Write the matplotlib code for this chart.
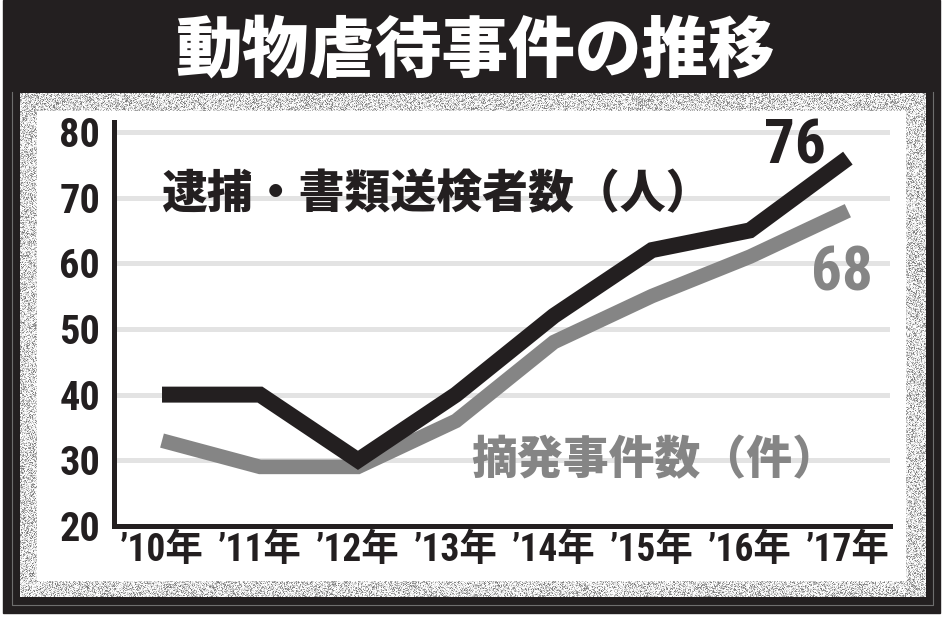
import numpy as np
import matplotlib.pyplot as plt
from matplotlib.patches import Rectangle

# ---------- データ ----------
years = ["’10年", "’11年", "’12年", "’13年", "’14年", "’15年", "’16年", "’17年"]
arrests = [40, 40, 30, 40, 52, 62, 65, 76]   # 逮捕・書類送検者数（人）
cases = [33, 29, 29, 36, 48, 55, 61, 68]     # 摘発事件数（件）
yticks = [20, 30, 40, 50, 60, 70, 80]

BLACK = "#231f20"
GRAY = "#858585"
JP = ["Noto Sans CJK JP", "DejaVu Sans"]
NUM = ["Roboto Condensed", "Open Sans Condensed", "Liberation Sans Narrow",
       "Noto Sans CJK JP", "DejaVu Sans"]

plt.rcParams["font.family"] = NUM

W, H = 946, 620
fig = plt.figure(figsize=(W / 100, H / 100), dpi=100)
fig.patch.set_facecolor("white")

# ---------- 背景（枠・ざらざらの地・白いパネル） ----------
bg = fig.add_axes([0, 0, 1, 1], zorder=-1)
bg.add_patch(Rectangle((3, 0), 937, 613, color=BLACK, zorder=0))
bg.plot([12, 12, 933, 933], [92, 605, 605, 92], color="#6e6e6e", lw=0.8, zorder=0.5)
rng = np.random.default_rng(7)
texture = 1 - 0.55 * rng.random((504, 905)) ** 2.2
bg.imshow(texture, cmap="gray", vmin=0, vmax=1, extent=(20, 925, 597, 93),
          interpolation="nearest", aspect="auto", zorder=1)
bg.add_patch(Rectangle((37, 111), 868, 469, color="white", zorder=2))
bg.set_xlim(0, W)
bg.set_ylim(H, 0)
bg.axis("off")

bg.text(475, 52, "動物虐待事件の推移", color="white", fontsize=48,
        fontweight="heavy", family=JP, ha="center", va="center", zorder=3)

# ---------- グラフ本体 ----------
ax = fig.add_axes([114 / W, 1 - 526 / H, (890 - 114) / W, (526 - 122) / H])
ax.patch.set_alpha(0)
x = np.arange(len(years))

ax.plot(x, cases, color=GRAY, lw=10.5, solid_joinstyle="miter",
        solid_capstyle="butt", zorder=3)
ax.plot(x, arrests, color=BLACK, lw=11.5, solid_joinstyle="miter",
        solid_capstyle="butt", zorder=4)

ax.set_xlim(-0.49, 7.43)
ax.set_ylim(20, 81.5)
ax.set_yticks(yticks)
ax.set_xticks(x)
ax.set_xticklabels(years)
ax.yaxis.grid(True, color="#e3e3e3", lw=3.6, zorder=1)
ax.set_axisbelow(True)

for s in ["top", "right"]:
    ax.spines[s].set_visible(False)
for s in ["left", "bottom"]:
    ax.spines[s].set_color(BLACK)
    ax.spines[s].set_linewidth(3.6)

ax.tick_params(axis="both", length=0, colors=BLACK)
ax.tick_params(axis="y", pad=10, labelsize=29)
ax.tick_params(axis="x", pad=4, labelsize=27)
for lab in ax.get_xticklabels() + ax.get_yticklabels():
    lab.set_fontweight("bold")

# ラベル
ax.text(0.0, 70.4, "逮捕・書類送検者数（人）", color=BLACK, fontsize=33,
        fontweight="heavy", family=JP, ha="left", va="center")
ax.text(3.16, 30.0, "摘発事件数（件）", color=GRAY, fontsize=33,
        fontweight="heavy", family=JP, ha="left", va="center")
ax.text(6.46, 78.75, str(arrests[-1]), color=BLACK, fontsize=44,
        fontweight="bold", ha="center", va="center_baseline")
ax.text(6.94, 59.3, str(cases[-1]), color=GRAY, fontsize=44,
        fontweight="bold", ha="center", va="center_baseline")

fig.savefig("out.png", dpi=100)
